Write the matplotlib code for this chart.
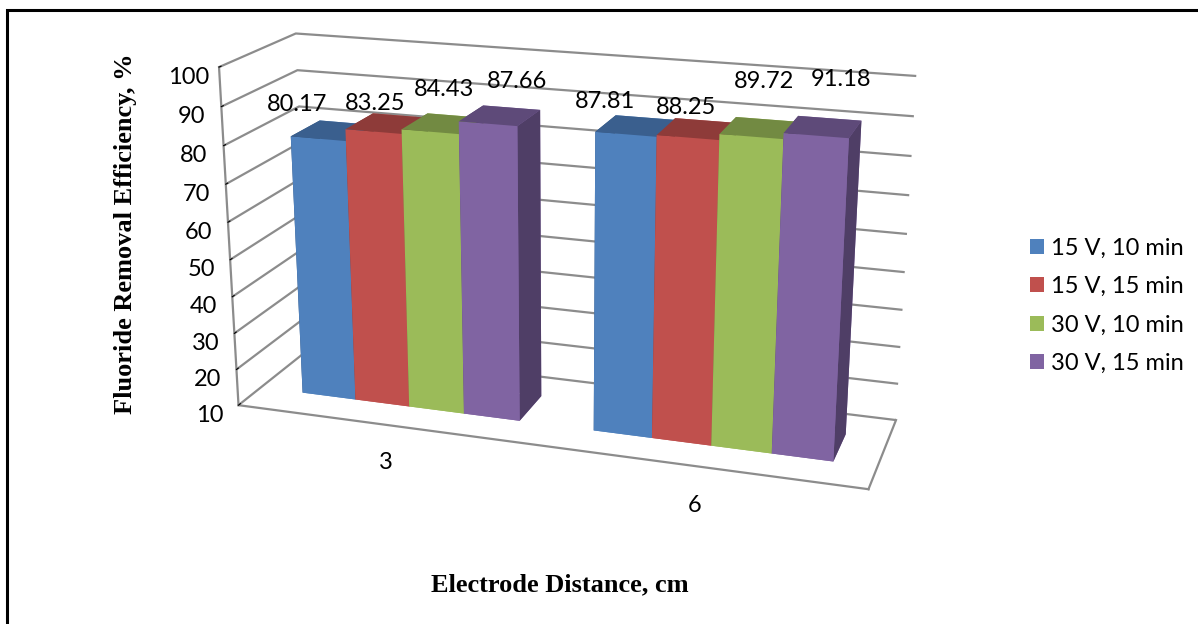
import numpy as np
import matplotlib.pyplot as plt
from matplotlib.patches import Patch, Rectangle

# data
distances = ['3', '6']
series = ['15 V, 10 min', '15 V, 15 min', '30 V, 10 min', '30 V, 15 min']
v_15_10 = [80.17, 87.81]
v_15_15 = [83.25, 88.25]
v_30_10 = [84.43, 89.72]
v_30_15 = [87.66, 91.18]
z_ticks = [10, 20, 30, 40, 50, 60, 70, 80, 90, 100]

values = [v_15_10, v_15_15, v_30_10, v_30_15]
front = ['#4F81BD', '#C0504D', '#9BBB59', '#8064A2']
top = ['#3A5F8E', '#8E3B39', '#728A42', '#5E4A79']
side = ['#34557E', '#7F3533', '#667C3B', '#4F3E66']

# where the value labels sit relative to each bar top (bar widths, value units)
label_dx = [[-0.92, -0.45, -0.2, 0.1], [-0.69, -0.32, -0.07, 0.15]]
label_dz = [[3.7, 2.7, 6.5, 6.8], [3.3, 3.0, 9.4, 9.6]]

plt.rcParams['font.family'] = ['Lato', 'DejaVu Sans']

fig = plt.figure(figsize=(11.98, 6.24), dpi=100)
ax = fig.add_axes([0.033, 0.029, 0.86, 1.12], projection='3d')
ax.set_proj_type('persp', focal_length=0.5)
ax.view_init(elev=18, azim=-72)

# bar layout (units of one bar width)
group_start = [0.0, 5.3]
bw = 1.0
y0, bd = 0.3, 0.4

xs, ys, zs, dz, cols = [], [], [], [], []
for g in range(len(distances)):
    for s in range(len(series)):
        xs.append(group_start[g] + s * bw)
        ys.append(y0)
        zs.append(10)
        dz.append(values[s][g] - 10)
        # face order: -z, +z, -y, +y, -x, +x
        cols += [front[s], top[s], front[s], front[s], side[s], side[s]]

ax.bar3d(xs, ys, zs, bw, bd, dz, color=cols, shade=False, edgecolor='none')

# data labels
for g in range(len(distances)):
    for s in range(len(series)):
        ax.text(group_start[g] + s * bw + 0.5 + label_dx[g][s], y0 + bd,
                values[s][g] + label_dz[g][s],
                '%.2f' % values[s][g], ha='center', va='center', fontsize=17,
                zorder=20)

ax.set_xlim(-0.8, 10.0)
ax.set_ylim(0, 1)
ax.set_zlim(10, 100)
ax.set_box_aspect((1.83, 0.48, 1.0), zoom=1.065)

ax.set_xticks([group_start[0] + 2, group_start[1] + 2])
ax.set_xticklabels(distances, fontsize=17)
ax.tick_params(axis='x', pad=10)
ax.set_yticks([])
ax.set_zticks(z_ticks)
ax.set_zticklabels([str(t) for t in z_ticks], fontsize=17)
ax.zaxis.set_ticks_position('lower')

grey = '#8C8C8C'
for a in (ax.xaxis, ax.yaxis):
    a._axinfo['grid']['linewidth'] = 0
    a._axinfo['tick']['inward_factor'] = 0
    a._axinfo['tick']['outward_factor'] = 0
ax.zaxis._axinfo['grid'].update(color=grey, linewidth=1.6, linestyle='-')
ax.zaxis._axinfo['tick'].update(inward_factor=0, outward_factor=0.3)
for a in (ax.xaxis, ax.yaxis, ax.zaxis):
    a.line.set_color(grey)
    a.line.set_linewidth(1.6)
    a.set_pane_color((1, 1, 1, 0))
ax.zaxis.pane.set_edgecolor(grey)
ax.zaxis.pane.set_linewidth(1.6)
ax.xaxis.pane.set_edgecolor('none')
ax.yaxis.pane.set_edgecolor('none')

# axis titles
fig.text(0.467, 0.063, 'Electrode Distance, cm', ha='center', va='center',
         fontsize=19, fontweight='bold', family='Liberation Serif')
fig.text(0.105, 0.625, 'Fluoride Removal Efficiency, %', ha='center', va='center',
         rotation=90, fontsize=19, fontweight='bold', family='Liberation Serif')

handles = [Patch(facecolor=c, edgecolor='none') for c in front]
fig.legend(handles, series, loc='center left', bbox_to_anchor=(1030 / 1198, 0.51),
           frameon=False, fontsize=17, handlelength=0.6, handleheight=0.6,
           handletextpad=0.3, labelspacing=0.74, borderpad=0, borderaxespad=0)

# outer border (only top and left edges fall inside the picture)
fig.patches.append(Rectangle((7 / 1198, -0.1), 1.2, 1.1 - 10 / 624,
                             transform=fig.transFigure, fill=False,
                             edgecolor='black', linewidth=2.2))

fig.savefig('out.png', dpi=100)
